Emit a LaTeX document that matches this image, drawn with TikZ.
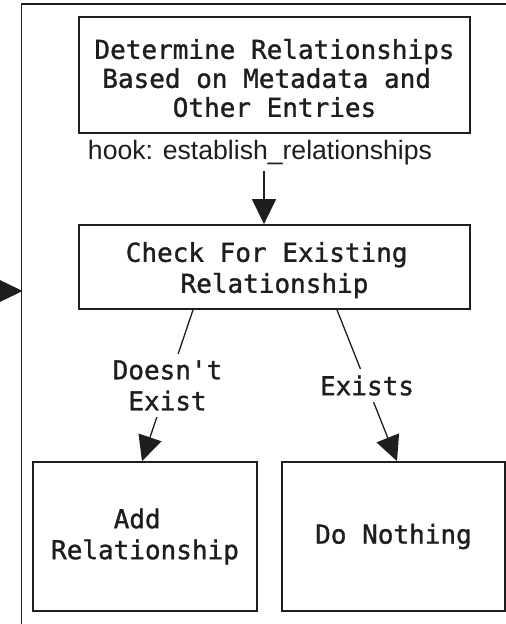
\documentclass[tikz,border=0pt]{standalone}
\usepackage{fontspec}
\setmainfont{Liberation Sans}
\newfontfamily\monof[FakeBold=1.2]{DejaVu Sans Mono}
\usetikzlibrary{arrows.meta}
\definecolor{ink}{HTML}{1E1E1E}
\begin{document}
\begin{tikzpicture}[x=1pt,y=-1pt,
  box/.style={draw=ink, line width=1.8pt, rectangle, inner sep=0pt, align=center,
    font=\monof\fontsize{26}{31}\selectfont, text=ink},
  arr/.style={draw=ink, line width=1.3pt, -{Triangle[length=25pt,width=24pt]}},
  lbl/.style={fill=white, inner xsep=2pt, inner ysep=6pt, align=center,
    font=\monof\fontsize{26}{31}\selectfont, text=ink},
  frame/.style={draw=ink, line width=1.5pt},
]
\useasboundingbox (0,0) rectangle (506,624);
\clip (0,0) rectangle (506,624);
\fill[white] (0,0) rectangle (506,624);

% outer frame
\draw[frame] (520,4) -- (21.5,4) -- (21.5,640);
\coordinate (fin) at (-30,291);
\coordinate (fend) at (22.5,291);
\draw[arr] (fin) -- (fend);

% nodes
\node[box, minimum width=391pt, minimum height=116.5pt,
  font=\monof\fontsize{26}{29}\selectfont] (top) at (274.5,75)
  {\rule{0pt}{26pt}Determine Relationships\\Based on Metadata and\hphantom{x}\\Other Entries};
\node[font=\fontsize{26.6}{30}\selectfont, text=ink, inner sep=0pt, anchor=base] (hook) at (260,159)
  {hook: establish\_relationships};
\node[box, minimum width=391pt, minimum height=84pt] (check) at (274.5,267)
  {\rule{0pt}{26pt}Check For Existing\hphantom{x}\\Relationship};
\node[box, minimum width=224pt, minimum height=149pt] (add) at (145,536.5)
  {Add\hphantom{x}\\Relationship};
\node[box, minimum width=223pt, minimum height=149pt] (none) at (393.5,536.5)
  {Do Nothing};

% connectors
\coordinate (hx) at (264,0);
\coordinate (l1) at (193,0);
\coordinate (l2) at (142,0);
\coordinate (r1) at (337,0);
\coordinate (r2) at (397,0);
\draw[arr, shorten <=6pt] (hook.south -| hx) -- (check.north -| hx);
\draw[arr] (check.south -| l1) -- node[lbl] {Doesn\textquotesingle t\\Exist} (add.north -| l2);
\draw[arr] (check.south -| r1) -- node[lbl] {Exists} (none.north -| r2);
\end{tikzpicture}
\end{document}
